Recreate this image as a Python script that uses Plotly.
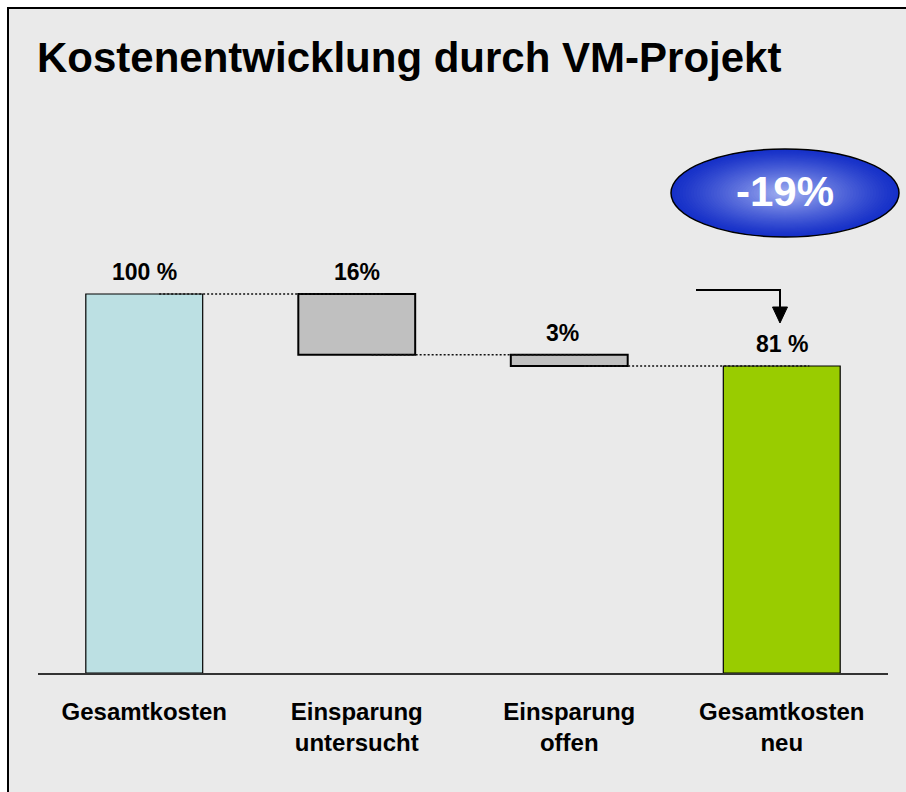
import plotly.graph_objects as go

# ---------------- data ----------------
categories = ["Gesamtkosten", "Einsparung<br>untersucht", "Einsparung<br>offen", "Gesamtkosten<br>neu"]
values = [100, 16, 3, 81]
bases = [0, 84, 81, 0]
value_labels = ["100 %", "16%", "3%", "81 %"]
connector_levels = [100, 84, 81]
bar_colors = ["#bce0e3", "#c0c0c0", "#c0c0c0", "#99cc00"]
bar_line_widths = [1.2, 2, 2, 1.2]
title_text = "Kostenentwicklung durch VM-Projekt"
badge_text = "-19%"

FONT = "Liberation Sans, Arial, sans-serif"
BG = "#eaeaea"
W, H = 906, 792
ML, MR, MT, MB = 38, 18, 105, 119
PW = W - ML - MR
PH = H - MT - MB


def px(xp):
    return (xp - ML) / PW


def py(yp):
    return (H - MB - yp) / PH


xs = list(range(len(categories)))

fig = go.Figure()
fig.add_trace(go.Bar(
    x=xs, y=values, base=bases, width=0.55,
    marker=dict(color=bar_colors, line=dict(color="#000000", width=bar_line_widths)),
    hoverinfo="skip", showlegend=False,
))

shapes = []
# slide area with outer border
shapes.append(dict(type="rect", xref="paper", yref="paper", x0=px(8), x1=px(960), y0=py(8), y1=py(900),
                   line=dict(color="#000000", width=2), fillcolor=BG, layer="below"))

# dotted connectors
for i, lvl in enumerate(connector_levels):
    shapes.append(dict(type="line", xref="x", yref="y", x0=i + 0.07, x1=i + 1.13, y0=lvl, y1=lvl,
                       line=dict(color="#111111", width=1.5, dash="2px,2px"), layer="above"))

# gradient ellipse badge
cx, cy, rx, ry = 785, 193, 114, 44
edge = (22, 48, 200)
center = (165, 178, 242)
N = 40
for k in range(N):
    s = 1 - k / N
    t = (1 - s) ** 1.2
    col = tuple(int(round(edge[j] + (center[j] - edge[j]) * t)) for j in range(3))
    shapes.append(dict(type="circle", xref="paper", yref="paper",
                       x0=px(cx - rx * s), x1=px(cx + rx * s), y0=py(cy + ry * s), y1=py(cy - ry * s),
                       fillcolor="rgb(%d,%d,%d)" % col,
                       line=dict(color="#000000" if k == 0 else "rgba(0,0,0,0)", width=1.5 if k == 0 else 0),
                       layer="above"))

# arrow
shapes.append(dict(type="path", xref="paper", yref="paper",
                   path="M %f,%f L %f,%f L %f,%f" % (px(696), py(290), px(780), py(290), px(780), py(309)),
                   line=dict(color="#000000", width=2), layer="above"))
shapes.append(dict(type="path", xref="paper", yref="paper",
                   path="M %f,%f L %f,%f L %f,%f Z" % (px(772.5), py(307), px(787.5), py(307), px(780), py(323)),
                   fillcolor="#000000", line=dict(color="#000000", width=1), layer="above"))

annotations = []
for i, (v, b, lab) in enumerate(zip(values, bases, value_labels)):
    annotations.append(dict(x=i, y=v + b, xref="x", yref="y", text=lab, showarrow=False,
                            yanchor="middle", yshift=22, xshift=-7 if i == 2 else 0,
                            font=dict(family=FONT, size=23, color="#000000", weight="bold")))

annotations.append(dict(x=px(35), y=py(58), xref="paper", yref="paper", text=title_text, showarrow=False,
                        xanchor="left", yanchor="middle",
                        font=dict(family=FONT, size=42, color="#000000", weight="bold")))
annotations.append(dict(x=px(cx), y=py(cy - 2), xref="paper", yref="paper", text=badge_text, showarrow=False,
                        xanchor="center", yanchor="middle",
                        font=dict(family=FONT, size=42, color="#ffffff", weight="bold")))

fig.update_layout(
    width=W, height=H,
    margin=dict(l=ML, r=MR, t=MT, b=MB),
    paper_bgcolor="#ffffff", plot_bgcolor=BG,
    shapes=shapes, annotations=annotations,
    xaxis=dict(range=[-0.5, 3.5], tickvals=xs, ticktext=categories, showgrid=False, zeroline=False,
               showline=True, linecolor="#333333", linewidth=2, ticks="", ticklabelstandoff=16,
               tickfont=dict(family=FONT, size=24, color="#000000", weight="bold"), fixedrange=True),
    yaxis=dict(range=[0, PH / 3.79], visible=False, fixedrange=True),
    showlegend=False,
)

fig.write_html("out.html", config={"displayModeBar": False, "staticPlot": True},
               post_script="document.body.style.margin='0';document.body.style.overflow='hidden';")
